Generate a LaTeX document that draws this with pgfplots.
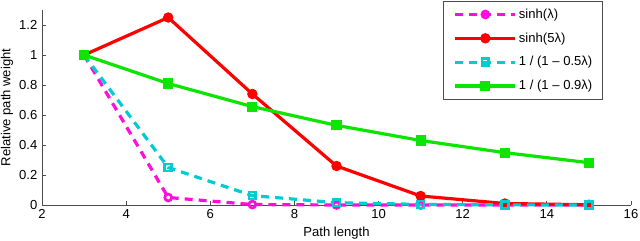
\documentclass[border=0pt]{standalone}
\usepackage{fontspec}
\setmainfont{Liberation Sans}
\usepackage{pgfplots}
\pgfplotsset{compat=1.18}
\definecolor{cMag}{rgb}{1,0.05,0.85}
\definecolor{cRed}{rgb}{1,0,0}
\definecolor{cCyan}{rgb}{0,0.8,0.82}
\definecolor{cGreen}{rgb}{0.05,0.9,0}
\newcommand{\lt}[1]{\makebox[53.75bp][l]{#1}}
\begin{document}
\fontsize{9.8bp}{11bp}\selectfont
\begin{tikzpicture}
\begin{axis}[
  at={(0,0)}, anchor=origin,
  scale only axis,
  width=441.75bp, height=146.25bp,
  xmin=2, xmax=16, ymin=0, ymax=1.3,
  xtick={2,4,...,16},
  ytick={0,0.2,0.4,0.6,0.8,1,1.2},
  yticklabels={0,0.2,0.4,0.6,0.8,1,1.2},
  axis x line*=bottom, axis y line*=left,
  axis line style={-, draw=black!70, line width=0.6bp},
  tick style={draw=black!70, line width=0.6bp},
  tick align=inside,
  major tick length=3bp,
  /pgf/number format/assume math mode=true,
  tick label style={font=\fontsize{9.8bp}{11bp}\selectfont},
  label style={font=\fontsize{9.8bp}{11bp}\selectfont},
  xlabel={Path length},
  ylabel={Relative path weight},
  xlabel style={at={(axis description cs:0.5,-0.1436)}, anchor=center},
  ylabel style={at={(axis description cs:-0.0594,0.5)}, anchor=center},
  legend style={at={(0.9525,1.046)}, anchor=north east, draw=black!70, line width=0.6bp,
    font=\fontsize{9.8bp}{11bp}\selectfont, inner xsep=7.5bp, inner ysep=4bp,
    row sep=6.3bp, nodes={inner sep=1.5bp}},
  legend cell align=left,
  legend image code/.code={
    \draw[mark repeat=2,mark phase=2,#1] plot coordinates {(0bp,0bp) (22.5bp,0bp) (45bp,0bp)};
  },
  clip=false,
]
\addplot[cMag, line width=2.4bp, dash pattern=on 6bp off 4.5bp, mark=o,
  mark options={solid, fill=white, line width=2bp}, mark size=2.6bp]
  coordinates {(3,1) (5,0.05) (7,0.003) (9,0.0002) (11,0) (13,0) (15,0)};
\addlegendentry{\lt{sinh(λ)}}
\addplot[cRed, line width=2.4bp, mark=*, mark options={solid, line width=0.8bp}, mark size=3.5bp]
  coordinates {(3,1) (5,1.25) (7,0.74) (9,0.26) (11,0.06) (13,0.01) (15,0.0015)};
\addlegendentry{\lt{sinh(5λ)}}
\addplot[cCyan, line width=2.4bp, dash pattern=on 6bp off 4.5bp, mark=square,
  mark options={solid, fill=white, line width=2bp}, mark size=2.6bp]
  coordinates {(3,1) (5,0.25) (7,0.0625) (9,0.0156) (11,0.0039) (13,0.001) (15,0.0002)};
\addlegendentry{\lt{1 / (1 -- 0.5λ)}}
\addplot[cGreen, line width=2.4bp, mark=square*, mark options={solid, line width=0.8bp}, mark size=3.4bp]
  coordinates {(3,1) (5,0.81) (7,0.656) (9,0.531) (11,0.43) (13,0.349) (15,0.282)};
\addlegendentry{\lt{1 / (1 -- 0.9λ)}}
\end{axis}
\pgfresetboundingbox
\useasboundingbox (-31.5bp,-27bp) rectangle (448.5bp,153.75bp);
\end{tikzpicture}
\end{document}
